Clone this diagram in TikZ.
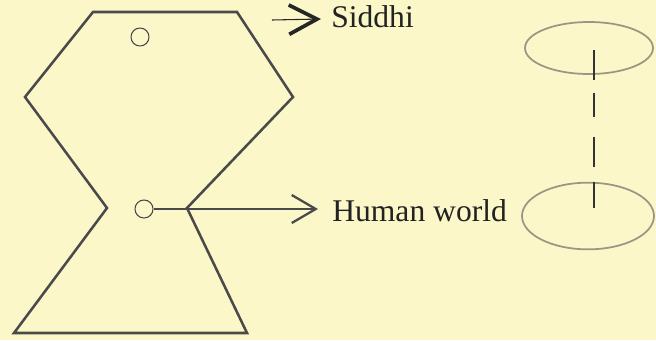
\documentclass[tikz,border=0pt]{standalone}
\usepackage{fontspec}
\setmainfont{Liberation Serif}
\usetikzlibrary{arrows.meta}
\definecolor{bgcol}{HTML}{FBF7C9}
\definecolor{shapecol}{HTML}{4A4A4A}
\definecolor{ellcol}{HTML}{9A9682}
\definecolor{txtcol}{HTML}{222222}
\tikzset{
  outline/.style={draw=shapecol, line width=1.9pt, line join=miter},
  smallring/.style={circle, draw=shapecol, line width=0.8pt, minimum size=13.5pt, inner sep=0pt},
  ringell/.style={ellipse, draw=ellcol, line width=1.3pt, inner sep=0pt},
  label/.style={text=txtcol, font=\fontsize{23.7}{26}\selectfont, inner sep=0pt, anchor=base west},
  pointer/.style={draw=shapecol, line width=0.8pt, -{Straight Barb[length=18pt, width=21pt, line width=1.7pt]}},
  pointerbold/.style={draw=black!85, line width=0.8pt, -{Straight Barb[length=21pt, width=22pt, line width=2.8pt]}}
}
\usetikzlibrary{shapes.geometric}
\begin{document}
\begin{tikzpicture}[x=0.75pt, y=-0.75pt]
  \fill[bgcol] (0,0) rectangle (656,340);
  \useasboundingbox (0,0) rectangle (656,340);
  % main figure outline
  \coordinate (tl) at (93,12);
  \coordinate (tr) at (237,12);
  \coordinate (rv) at (293,97);
  \coordinate (ri) at (187,208);
  \coordinate (br) at (247,333);
  \coordinate (bl) at (14,333);
  \coordinate (li) at (107,208);
  \coordinate (lv) at (25,97);
  \draw[outline] (tl) -- (tr) -- (rv) -- (ri) -- (br) -- (bl) -- (li) -- (lv) -- cycle;
  % small rings
  \node[smallring] (topring) at (140,37) {};
  \node[smallring] (midring) at (144,209) {};
  % labels
  \node[label] (siddhi) at (331,27) {Siddhi};
  \node[label] (human) at (332,221) {Human world};
  % pointers
  \coordinate (sidstart) at (272,20);
  \coordinate (sidtip) at (321,19);
  \draw[pointerbold] (sidstart) -- (sidtip);
  \coordinate (humtip) at (318,209);
  \draw[pointer] (midring.east) -- (humtip);
  % right side ellipses
  \node[ringell, minimum width=96pt, minimum height=39pt] (upper) at (589,48) {};
  \node[ringell, minimum width=99pt, minimum height=50pt] (lower) at (588,216) {};
  \coordinate (dtop) at (594,50);
  \coordinate (dbot) at (594,208);
  \draw[black!80, line width=1.6pt, dash pattern=on 22.5pt off 9.75pt on 18pt off 15pt on 22.5pt off 11.25pt on 19.5pt off 10pt] (dtop) -- (dbot);
\end{tikzpicture}
\end{document}
